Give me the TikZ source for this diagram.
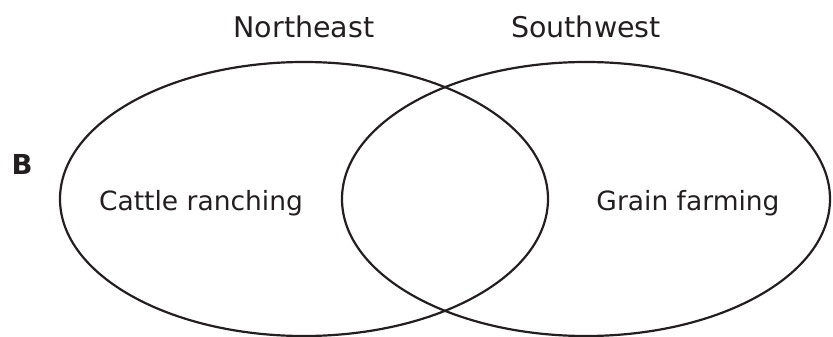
\documentclass[tikz,border=0pt]{standalone}
\usepackage{fontspec}
\setmainfont{DejaVu Sans}
\usetikzlibrary{shapes.geometric, positioning}
\definecolor{inkdark}{RGB}{35, 31, 32}

\begin{document}
\begin{tikzpicture}[x=1pt, y=-1pt,
    region/.style={draw=inkdark, line width=2.2pt, ellipse, inner sep=0pt,
      minimum width=488pt, minimum height=274pt},
    setlabel/.style={font=\fontsize{26.5}{30}\selectfont, text=inkdark, anchor=base, inner sep=0pt},
    settitle/.style={setlabel, font=\fontsize{28.5}{32}\selectfont}]
  \useasboundingbox (0,0) rectangle (833,337);

  % Sets
  \node[region] (northeast) at (304,199) {};
  \node[region] (southwest) at (586,199) {};

  % Titles
  \node[settitle] (netitle) at (304,38) {Northeast};
  \node[settitle] (swtitle) at (586,38) {Southwest};

  % Item letter
  \node[setlabel, font=\fontsize{27.5}{30}\selectfont\bfseries] (letter) at (22,174) {B};

  % Contents
  \node[setlabel] (cattle) at (201,210) {Cattle ranching};
  \node[setlabel] (grain) at (688,210) {Grain farming};
\end{tikzpicture}
\end{document}
